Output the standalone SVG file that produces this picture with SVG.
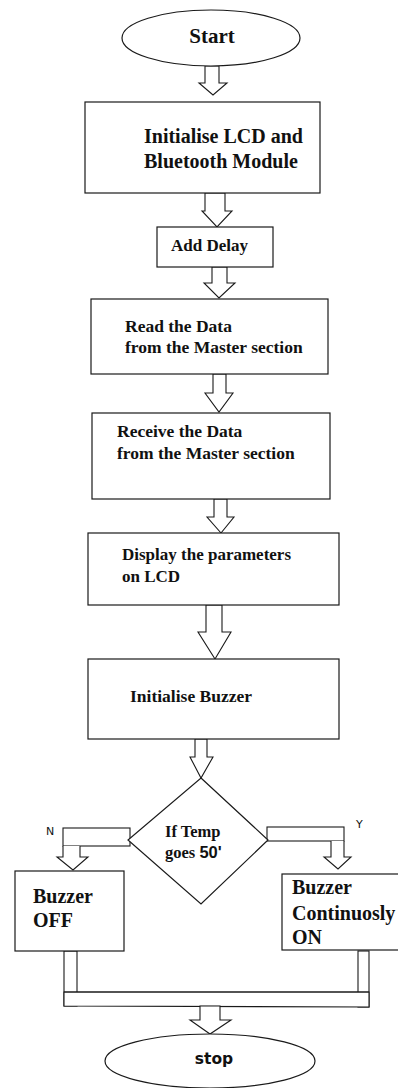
<svg xmlns="http://www.w3.org/2000/svg" width="398" height="1088" viewBox="0 0 398 1088">
<style>
.shape{fill:#fff;stroke:#1a1a1a;stroke-width:1.2}
.arrow{fill:#fff;stroke:#1a1a1a;stroke-width:1.1;stroke-linejoin:miter}
.t{font-family:"Liberation Serif","Times New Roman",serif;font-weight:bold;fill:#111}
.s{font-family:"DejaVu Sans","Liberation Sans",sans-serif;fill:#111}
</style>
<rect width="398" height="1088" fill="#fff"/>
<g id="connectors">
<polygon class="arrow" points="205,66 205,83 199,83 213,95 227,83 219,83 219,66"/>
<polygon class="arrow" points="205,193 205,211 202,211 217,227 232,211 225,211 225,193"/>
<polygon class="arrow" points="212,267 212,283 204,283 219,298 235,283 227,283 227,267"/>
<polygon class="arrow" points="213,374 213,393 205,393 219,412 233,393 226,393 226,374"/>
<polygon class="arrow" points="214,499 214,517 207,517 221,533 234,517 227,517 227,499"/>
<polygon class="arrow" points="206,605 206,632 198,632 215,659 231,632 222,632 222,605"/>
<polygon class="arrow" points="195,739 195,757 190,757 201,778 213,757 207,757 207,739"/>
<rect class="arrow" x="63" y="828" width="67" height="18"/>
<polyline class="arrow" points="63,846 63,857 57,857 73,870 88,857 80,857 80,846"/>
<rect class="arrow" x="267" y="827" width="77" height="14"/>
<polyline class="arrow" points="331,841 331,857 324,857 338,869 351,857 344,857 344,841"/>
<rect class="arrow" x="64" y="951" width="13" height="55"/>
<rect class="arrow" x="358" y="951" width="11" height="56"/>
<polygon class="arrow" points="64,992 369,992 369,1007 64,1006"/>
<line x1="64" y1="992" x2="369" y2="992" stroke="#1a1a1a" stroke-width="1.1"/>
<polygon class="arrow" points="200,1006 200,1020 190,1020 210,1034 231,1020 220,1020 220,1006"/>
<text class="s" x="46" y="835" font-size="11">N</text>
<text class="s" x="356" y="828" font-size="11">Y</text>
</g>
<g id="start">
<ellipse class="shape" cx="211" cy="38" rx="89" ry="28"/>
<text class="t" x="212" y="43" font-size="21" text-anchor="middle">Start</text>
</g>
<g id="init-lcd">
<rect class="shape" x="85" y="102" width="235" height="91"/>
<text class="t" x="144" y="143" font-size="20">Initialise LCD and</text>
<text class="t" x="144" y="168" font-size="20">Bluetooth Module</text>
</g>
<g id="add-delay">
<rect class="shape" x="157" y="227" width="116" height="40"/>
<text class="t" x="171" y="251" font-size="17">Add Delay</text>
</g>
<g id="read-data">
<rect class="shape" x="91" y="299" width="237" height="75"/>
<text class="t" x="125" y="332" font-size="17.5">Read the Data</text>
<text class="t" x="125" y="353" font-size="17.5">from the Master section</text>
</g>
<g id="receive-data">
<rect class="shape" x="92" y="413" width="238" height="86"/>
<text class="t" x="117" y="437" font-size="17.5">Receive the Data</text>
<text class="t" x="117" y="459" font-size="17.5">from the Master section</text>
</g>
<g id="display">
<rect class="shape" x="88" y="533" width="251" height="72"/>
<text class="t" x="122" y="560" font-size="17">Display the parameters</text>
<text class="t" x="122" y="582" font-size="17">on LCD</text>
</g>
<g id="init-buzzer">
<rect class="shape" x="88" y="659" width="251" height="80"/>
<text class="t" x="130" y="702" font-size="17.5">Initialise Buzzer</text>
</g>
<g id="decision">
<polygon class="shape" points="201,778 268,840 201,904 128,840"/>
<text class="t" x="165" y="837" font-size="16.5">If Temp</text>
<text class="t" x="165" y="858" font-size="16.5">goes <tspan font-family="Liberation Sans, sans-serif">50'</tspan></text>
</g>
<g id="buzzer-off">
<rect class="shape" x="15" y="871" width="109" height="80"/>
<text class="t" x="33" y="903" font-size="20">Buzzer</text>
<text class="t" x="33" y="927" font-size="20">OFF</text>
</g>
<g id="buzzer-on">
<rect class="shape" x="282" y="874" width="120" height="76"/>
<text class="t" x="292" y="894" font-size="20">Buzzer</text>
<text class="t" x="292" y="920" font-size="20">Continuosly</text>
<text class="t" x="292" y="944" font-size="20">ON</text>
</g>
<g id="stop">
<ellipse class="shape" cx="210" cy="1061" rx="105" ry="27"/>
<text class="s" x="214" y="1064" font-size="15.5" font-weight="bold" text-anchor="middle">stop</text>
</g>
</svg>
